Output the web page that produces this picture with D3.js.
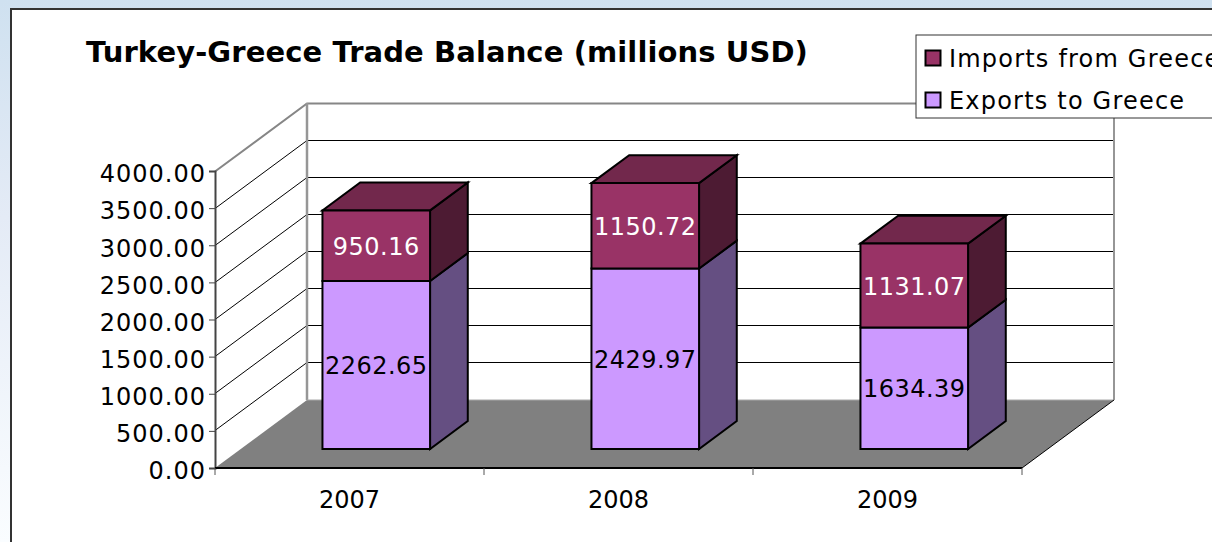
<!DOCTYPE html>
<html>
<head>
<meta charset="utf-8">
<script src="https://cdn.jsdelivr.net/npm/d3@7"></script>
<style>
html, body { margin: 0; padding: 0; background: #fff; overflow: hidden; }
svg { display: block; }
text { font-family: "DejaVu Sans", sans-serif; }
</style>
</head>
<body>
<svg id="chart"></svg>
<script>
const years = ['2007', '2008', '2009'];
const exportsToGreece = [2262.65, 2429.97, 1634.39];
const importsFromGreece = [950.16, 1150.72, 1131.07];
const yTicks = [0, 500, 1000, 1500, 2000, 2500, 3000, 3500, 4000];
const seriesNames = ['Exports to Greece', 'Imports from Greece'];

const w = 1212;
const h = 542;
const svg = d3.select('#chart').attr('width', w).attr('height', h);

// page background behind the chart frame
const grad = svg.append('defs').append('linearGradient')
    .attr('id', 'bg').attr('x1', 0).attr('y1', 0).attr('x2', 0).attr('y2', 1);
grad.append('stop').attr('offset', 0).attr('stop-color', '#cfe1f0');
grad.append('stop').attr('offset', 0.4).attr('stop-color', '#e4ebf6');
grad.append('stop').attr('offset', 1).attr('stop-color', '#fafdff');
svg.append('rect').attr('width', w).attr('height', h).attr('fill', 'url(#bg)');
svg.append('rect').attr('x', 11).attr('y', 9).attr('width', w).attr('height', h)
    .attr('fill', '#fff').attr('stroke', '#333').attr('stroke-width', 2);

// scales, front plane of the box
const x = d3.scaleBand().domain(years).range([215, 1022]).paddingInner(0.6).paddingOuter(0.3);
const y = d3.scaleLinear().domain([0, 4000]).range([468, 171]);
const depthX = d3.scaleLinear().domain([0, 1]).range([0, 92]);
const depthY = d3.scaleLinear().domain([0, 1]).range([0, -68]);
const pt = (px, v, z) => [px + depthX(z), y(v) + depthY(z)];
const poly = pts => pts.join(' ');
// keeps a horizontal gridline on one pixel row
const crisp = p => [p[0], Math.floor(p[1]) + 0.5];

const x0 = x.range()[0];
const x1 = x.range()[1];
const yMax = yTicks[yTicks.length - 1];

// floor
svg.append('polygon')
    .attr('points', poly([pt(x0, 0, 0), pt(x1, 0, 0), pt(x1, 0, 1), pt(x0, 0, 1)]))
    .attr('fill', '#808080');

// gridlines on the side wall and back wall
const grid = svg.append('g');
grid.selectAll('polyline')
    .data(yTicks.slice(1))
    .join('polyline')
    .attr('points', d => poly([crisp(pt(x0, d, 0)), crisp(pt(x0, d, 1)), crisp(pt(x1, d, 1))]))
    .attr('fill', 'none')
    .attr('stroke', d => d === yMax ? '#868686' : '#000')
    .attr('stroke-width', d => d === yMax ? 2 : 1);

// wall edges
grid.append('polyline')
    .attr('points', poly([pt(x0, 0, 1), pt(x0, yMax, 1)]))
    .attr('stroke', '#969696').attr('stroke-width', 2.5);
grid.append('polyline')
    .attr('points', poly([pt(x1, 0, 1), pt(x1, yMax, 1)]))
    .attr('stroke', '#969696').attr('stroke-width', 2);
grid.append('polyline')
    .attr('points', poly([pt(x0, 0, 1), pt(x1, 0, 1)]))
    .attr('stroke', '#a8a8a8').attr('stroke-width', 1);
grid.append('polyline')
    .attr('points', poly([pt(x1, 0, 0), pt(x1, 0, 1)]))
    .attr('stroke', '#000').attr('stroke-width', 1);

// axes
const yAxis = svg.append('g').attr('transform', `translate(${x0},0)`)
    .call(d3.axisLeft(y).tickValues(yTicks).tickSize(6).tickPadding(3).tickFormat(d3.format('.2f')));
yAxis.select('.domain').attr('stroke', '#444').attr('stroke-width', 2);
yAxis.selectAll('.tick line').attr('stroke', '#444');
yAxis.selectAll('text').attr('font-size', 24).attr('fill', '#000').attr('dy', '0.45em')
    .attr('letter-spacing', 1)
    .style('font-family', '"DejaVu Sans", sans-serif');

const xAxis = svg.append('g').attr('transform', `translate(0,${y(0)})`);
xAxis.append('line').attr('x1', x0).attr('x2', x1).attr('stroke', '#000').attr('stroke-width', 2);
xAxis.selectAll('line.tick')
    .data(d3.range(years.length + 1))
    .join('line')
    .attr('class', 'tick')
    .attr('x1', d => x0 + d * x.step()).attr('x2', d => x0 + d * x.step())
    .attr('y1', 0).attr('y2', 7)
    .attr('stroke', '#555');
xAxis.selectAll('text')
    .data(years)
    .join('text')
    .attr('x', d => x(d) + x.bandwidth() / 2)
    .attr('y', 40)
    .attr('text-anchor', 'middle')
    .attr('font-size', 24)
    .text(d => d);

// stacked 3d bars
const rows = years.map((yr, i) => ({ year: yr, exportsVal: exportsToGreece[i], importsVal: importsFromGreece[i] }));
const stacked = d3.stack().keys(['exportsVal', 'importsVal'])(rows);
const fills = [
    { front: '#cc99ff', side: '#654f82', top: '#7a5c9c', label: '#000' },
    { front: '#993366', side: '#4d1b33', top: '#72284c', label: '#fff' }
];
const zFront = 0.28;
const zBack = 0.69;
const barShift = 1;

stacked.forEach((series, s) => {
    const c = fills[s];
    const g = svg.append('g');
    series.forEach(d => {
        const left = x(d.data.year) + barShift;
        const right = left + x.bandwidth();
        const a = d[0], b = d[1];
        g.append('polygon')
            .attr('points', poly([pt(right, a, zFront), pt(right, b, zFront), pt(right, b, zBack), pt(right, a, zBack)]))
            .attr('fill', c.side).attr('stroke', '#000').attr('stroke-width', 2);
        if (s === stacked.length - 1) {
            g.append('polygon')
                .attr('points', poly([pt(left, b, zFront), pt(right, b, zFront), pt(right, b, zBack), pt(left, b, zBack)]))
                .attr('fill', c.top).attr('stroke', '#000').attr('stroke-width', 2);
        }
        g.append('polygon')
            .attr('points', poly([pt(left, a, zFront), pt(right, a, zFront), pt(right, b, zFront), pt(left, b, zFront)]))
            .attr('fill', c.front).attr('stroke', '#000').attr('stroke-width', 2);
        g.append('text')
            .attr('x', pt((left + right) / 2, 0, zFront)[0])
            .attr('y', pt(0, (a + b) / 2, zFront)[1] + 9)
            .attr('text-anchor', 'middle')
            .attr('font-size', 24)
            .attr('letter-spacing', 0.5)
            .attr('fill', c.label)
            .text(d3.format('.2f')(d[1] - d[0]));
    });
});

// title
svg.append('text')
    .attr('x', 86).attr('y', 62)
    .attr('font-size', 29).attr('font-weight', 'bold')
    .attr('letter-spacing', 0.1)
    .text('Turkey-Greece Trade Balance (millions USD)');

// legend, runs off the right edge like the original
const legend = svg.append('g');
legend.append('rect')
    .attr('x', 916).attr('y', 35).attr('width', 320).attr('height', 83)
    .attr('fill', '#fff').attr('stroke', '#333').attr('stroke-width', 1);
const legendY = d3.scalePoint().domain(seriesNames.slice().reverse()).range([58, 100]);
seriesNames.forEach((name, i) => {
    legend.append('rect')
        .attr('x', 925.5).attr('y', legendY(name) - 7.5).attr('width', 15).attr('height', 15)
        .attr('fill', fills[i].front).attr('stroke', '#000').attr('stroke-width', 2);
    legend.append('text')
        .attr('x', 949).attr('y', legendY(name) + 9)
        .attr('font-size', 24)
        .attr('letter-spacing', 1.2)
        .text(name);
});
</script>
</body>
</html>
